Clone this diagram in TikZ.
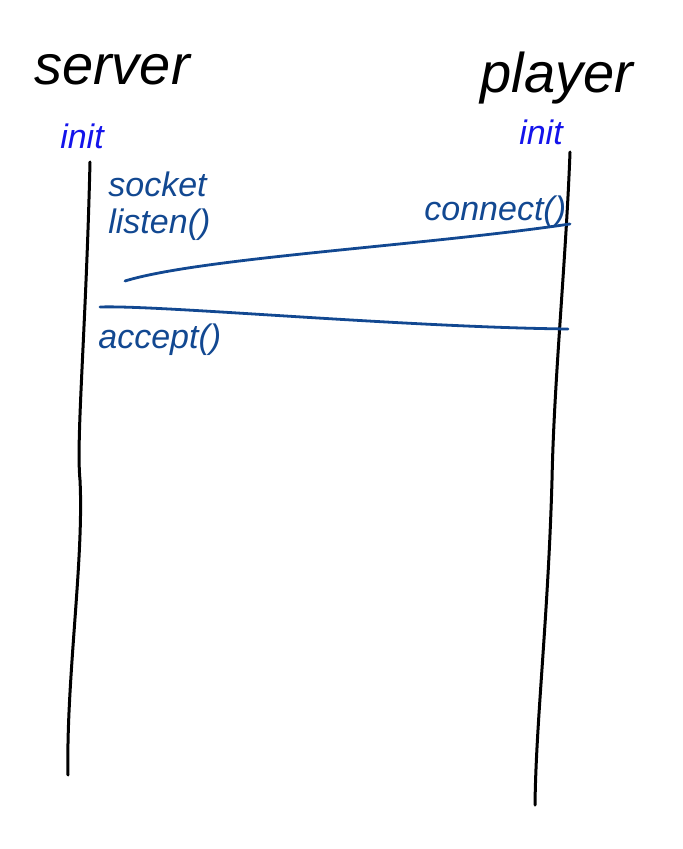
\documentclass[tikz,border=0pt]{standalone}
\usepackage{fontspec}
\setmainfont{Liberation Sans}
\usepackage{tikz}
\usetikzlibrary{positioning}
\definecolor{penblue}{RGB}{18,72,145}
\definecolor{initblue}{RGB}{20,20,235}

\begin{document}
\begin{tikzpicture}[
    x=0.5pt,y=-0.5pt,
    actor/.style={font=\fontsize{28}{32}\selectfont\itshape,text=black,inner sep=0pt},
    state/.style={font=\fontsize{17}{20}\selectfont\itshape,text=initblue,inner sep=0pt},
    call/.style={font=\fontsize{17}{20}\selectfont\itshape,text=penblue,inner sep=0pt,anchor=west},
    lifeline/.style={draw=black,line width=1.5pt,line cap=round},
    msg/.style={draw=penblue,line width=1.4pt,line cap=round}
  ]
    \useasboundingbox (0,0) rectangle (682,849);

    % participants
    \node[actor] (server) at (112,70) {server};
    \node[actor] (player) at (557,78) {player};
    \node[state] (sinit) at (82,136) {init};
    \node[state] (pinit) at (541,132) {init};

    % lifelines
    \coordinate (stop) at (90,162);
    \coordinate (sbot) at (68,775);
    \coordinate (ptop) at (570,152);
    \coordinate (pbot) at (535,805);
    \draw[lifeline] (stop) .. controls (86,330) and (76,440) .. (80,480)
      .. controls (84,560) and (66,680) .. (sbot);
    \draw[lifeline] (ptop) .. controls (566,260) and (554,380) .. (552,480)
      .. controls (548,620) and (536,720) .. (pbot);

    % server side calls
    \node[call] (socket) at (108,184) {socket};
    \node[call,below=2mm of socket.south west,anchor=north west] (listen) {listen()};
    \node[call] (accept) at (98,340) {accept()};

    % player side call
    \node[call] (connect) at (424,212) {connect()};

    % connect / accept messages
    \coordinate (creq) at (570,224);
    \coordinate (cend) at (125,281);
    \coordinate (abeg) at (100,307);
    \coordinate (aend) at (568,329);
    \draw[msg] (creq) .. controls (420,246) and (200,258) .. (cend);
    \draw[msg] (abeg) .. controls (160,305) and (400,327) .. (aend);
\end{tikzpicture}
\end{document}
